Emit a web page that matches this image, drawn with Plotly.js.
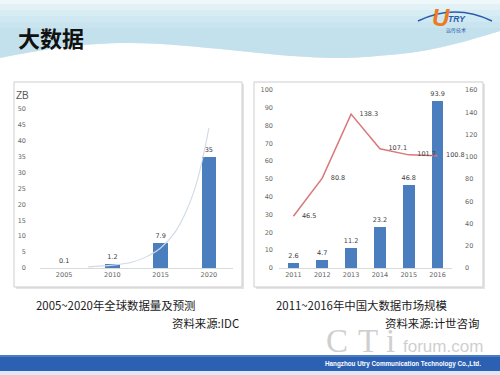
<!DOCTYPE html>
<html>
<head>
<meta charset="utf-8">
<script src="https://cdn.plot.ly/plotly-3.0.1.min.js"></script>
<style>html,body{margin:0;padding:0;background:#fff;}#chart{width:500px;height:375px;}</style>
</head>
<body>
<div id="chart"></div>
<script>
// ---- data ----
const yearsL = ['2005', '2010', '2015', '2020'];
const volumeZB = [0.1, 1.2, 7.9, 35];
// exponential trend curve (category position, ZB)
const trendPos = [0.5, 1.0, 1.4, 1.7, 2.0, 2.3, 2.5, 2.7, 2.85, 3.0];
const trendZB = [0.35, 0.9, 1.8, 3.5, 6.3, 11.3, 16.8, 24.5, 33, 44];

const yearsR = ['2011', '2012', '2013', '2014', '2015', '2016'];
const marketSize = [2.6, 4.7, 11.2, 23.2, 46.8, 93.9];
const growthRate = [46.5, 80.8, 138.3, 107.1, 101.7, 100.8];

// ---- helpers (pixel -> paper) ----
const W = 500, H = 375;
const px = x => x / W;
const py = y => 1 - y / H;
const path = pts => pts.map(p => px(p[0]).toFixed(4) + ',' + py(p[1]).toFixed(4)).join(' ');

const numFont = 'DejaVu Sans, Verdana, sans-serif';
const cjkFont = 'Noto Sans CJK SC, sans-serif';

const idxL = yearsL.map((_, i) => i);
const idxR = yearsR.map((_, i) => i);

const traces = [
  {
    type: 'bar', x: idxL, y: volumeZB, xaxis: 'x', yaxis: 'y', width: 0.3,
    marker: {color: '#4a7ebf'},
    text: volumeZB.map(String), textposition: 'outside', constraintext: 'none', cliponaxis: false,
    textfont: {family: numFont, size: 6.5, color: '#404040'}
  },
  {
    type: 'scatter', mode: 'lines', x: trendPos, y: trendZB, xaxis: 'x', yaxis: 'y',
    line: {color: '#cfdae5', width: 1.1, shape: 'spline'}, cliponaxis: false
  },
  {
    type: 'bar', x: idxR, y: marketSize, xaxis: 'x2', yaxis: 'y2', width: 0.4,
    marker: {color: '#4a7ebf'},
    text: marketSize.map(String), textposition: 'outside', constraintext: 'none', cliponaxis: false,
    textfont: {family: numFont, size: 6.5, color: '#404040'}
  },
  {
    type: 'scatter', mode: 'lines+markers+text', x: idxR, y: growthRate, xaxis: 'x2', yaxis: 'y3',
    line: {color: '#d9777a', width: 1.5},
    marker: {size: 12, opacity: 0},
    text: growthRate.map(String), textposition: 'middle right', cliponaxis: false,
    textfont: {family: numFont, size: 6.5, color: '#404040'}
  }
];

// ---- decorative shapes ----
const wave = [['M', 0, 0], ['L', 500, 0], ['L', 500, 31],
  ['C', 470, 40], [440, 50], [400, 54], ['S', 350, 58], [330, 58],
  ['C', 260, 56], [200, 44], [130, 43], ['C', 80, 43], [40, 50], [0, 58], 'Z'];
function wavePath(top) {
  const out = [];
  wave.forEach((p, i) => {
    if (typeof p === 'string') { out.push(p); return; }
    let cmd = '';
    let pt = p;
    if (typeof p[0] === 'string') { cmd = p[0]; pt = [p[1], p[2]]; }
    let y = pt[1];
    if (i < 2) y = top;
    out.push(cmd + ' ' + px(pt[0]).toFixed(4) + ',' + py(y).toFixed(4));
  });
  return out.join(' ');
}

const shapes = [];
shapes.push({type: 'path', xref: 'paper', yref: 'paper', path: wavePath(0), fillcolor: '#eef7fa', line: {width: 0}, layer: 'below'});
[4, 10, 16, 22, 28].forEach(k => {
  shapes.push({type: 'path', xref: 'paper', yref: 'paper', path: wavePath(k), fillcolor: '#a8d4e6', opacity: 0.16, line: {width: 0}, layer: 'below'});
});
// chart boxes with soft shadow
[[14, 242], [254, 483]].forEach(b => {
  shapes.push({type: 'rect', xref: 'paper', yref: 'paper', x0: px(b[0] + 2), x1: px(b[1] + 2), y0: py(289), y1: py(84), fillcolor: '#e4e4e4', line: {width: 0}, layer: 'below'});
  shapes.push({type: 'rect', xref: 'paper', yref: 'paper', x0: px(b[0]), x1: px(b[1]), y0: py(287), y1: py(82), fillcolor: '#ffffff', line: {color: '#cdcdcd', width: 1}, layer: 'below'});
});
// footer band
shapes.push({type: 'rect', xref: 'paper', yref: 'paper', x0: 0, x1: 1, y0: py(375), y1: py(371), fillcolor: '#dde8f4', line: {width: 0}, layer: 'below'});
shapes.push({type: 'rect', xref: 'paper', yref: 'paper', x0: 0, x1: 1, y0: py(371), y1: py(355), fillcolor: '#2c60b3', line: {width: 0}, layer: 'below'});
shapes.push({type: 'rect', xref: 'paper', yref: 'paper', x0: 0, x1: 1, y0: py(357), y1: py(355), fillcolor: '#4a7cc6', line: {width: 0}, layer: 'below'});
// logo arc
shapes.push({type: 'path', xref: 'paper', yref: 'paper', path: 'M ' + path([[418, 21]]) + ' Q ' + path([[455, 3], [492, 21]]), line: {color: '#2a5caa', width: 1.5}, layer: 'above'});

// ---- text annotations ----
const ann = (text, x, y, opts) => Object.assign({text, x: px(x), y: py(y), xref: 'paper', yref: 'paper', showarrow: false, xanchor: 'left', yanchor: 'middle'}, opts);
const capFont = {family: cjkFont, size: 11.4, color: '#1a1a1a'};
const annotations = [
  ann('<b>大数据</b>', 16, 37, {font: {family: cjkFont, size: 22, color: '#111111'}}),
  ann('ZB', 14, 95, {font: {family: 'Liberation Sans, sans-serif', size: 10, color: '#595959'}}),
  ann('2005~2020年全球数据量及预测', 34, 305, {font: capFont}),
  ann('资料来源:IDC', 241, 323, {xanchor: 'right', font: capFont}),
  ann('2011~2016年中国大数据市场规模', 274, 305, {font: capFont}),
  ann('资料来源:计世咨询', 481, 323, {xanchor: 'right', font: capFont}),
  // watermark
  ann('C', 337, 341, {xanchor: 'center', font: {family: 'Liberation Serif, serif', size: 33, color: '#cfcfcf'}}),
  ann('T', 368, 341, {xanchor: 'center', font: {family: 'Liberation Serif, serif', size: 33, color: '#cfcfcf'}}),
  ann('i', 390, 341, {xanchor: 'center', font: {family: 'Liberation Serif, serif', size: 33, color: '#cfcfcf'}}),
  ann('forum.com', 401, 346, {font: {family: 'Liberation Sans, sans-serif', size: 17, color: '#cfcfcf'}}),
  ann('<b>Hangzhou Utry Communication Technology Co.,Ltd.</b>', 483, 363.5, {xanchor: 'right', font: {family: 'Liberation Sans, sans-serif', size: 6.3, color: '#ffffff'}}),
  // logo
  ann('<b><i>U</i></b>', 441, 17, {xanchor: 'center', font: {family: 'Liberation Sans, sans-serif', size: 24, color: '#ee7a1e'}}),
  ann('<b><i>TRY</i></b>', 457, 19, {xanchor: 'center', font: {family: 'Liberation Sans, sans-serif', size: 8.5, color: '#2a5caa'}}),
  ann('远传技术', 456, 30, {xanchor: 'center', font: {family: cjkFont, size: 5, color: '#2a5caa'}})
];

const tickFont = {family: numFont, size: 6.5, color: '#666666'};
const layout = {
  width: W, height: H,
  margin: {l: 0, r: 0, t: 0, b: 0, pad: 0},
  paper_bgcolor: '#ffffff', plot_bgcolor: 'rgba(0,0,0,0)',
  showlegend: false, bargap: 0,
  xaxis: {domain: [px(40), px(233)], range: [-0.5, 3.5], tickvals: idxL, ticktext: yearsL, anchor: 'y',
    showline: true, linecolor: '#d9d9d9', linewidth: 1, showgrid: false, zeroline: false, ticks: '', tickfont: tickFont},
  yaxis: {domain: [py(268), py(109)], range: [0, 50], dtick: 5, anchor: 'x',
    showline: false, showgrid: false, zeroline: false, ticks: '', tickfont: tickFont, ticklabelstandoff: 13},
  xaxis2: {domain: [px(279), px(452)], range: [-0.5, 5.5], tickvals: idxR, ticktext: yearsR, anchor: 'y2',
    showline: true, linecolor: '#d9d9d9', linewidth: 1, showgrid: false, zeroline: false, ticks: '', tickfont: tickFont},
  yaxis2: {domain: [py(268), py(90)], range: [0, 100], dtick: 10, anchor: 'x2',
    showline: false, showgrid: false, zeroline: false, ticks: '', tickfont: tickFont, ticklabelstandoff: 5},
  yaxis3: {overlaying: 'y2', side: 'right', anchor: 'x2', range: [0, 160], dtick: 20,
    showline: false, showgrid: false, zeroline: false, ticks: '', tickfont: tickFont, ticklabelstandoff: 12},
  shapes, annotations
};

Plotly.newPlot('chart', traces, layout, {staticPlot: true, displayModeBar: false});
</script>
</body>
</html>
